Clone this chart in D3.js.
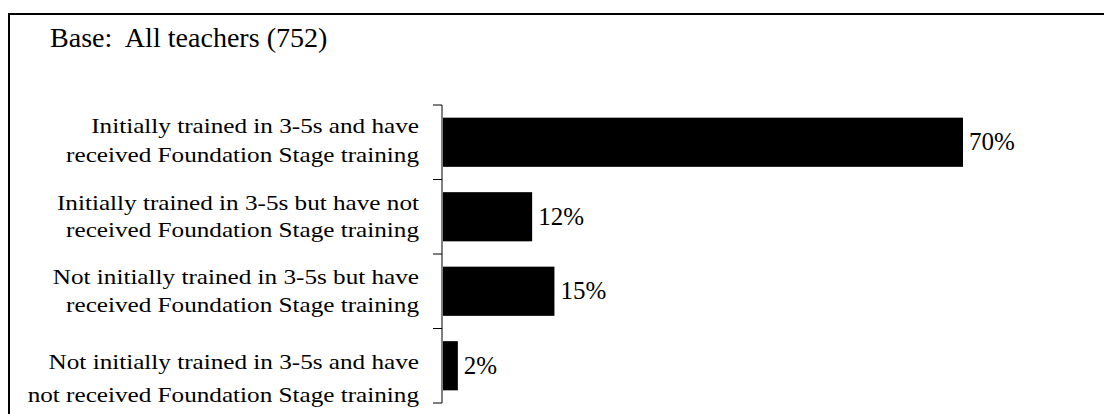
<!DOCTYPE html>
<html>
<head>
<meta charset="utf-8">
<script src="https://cdn.jsdelivr.net/npm/d3@7"></script>
<style>
  body { margin: 0; background: #fff; }
  svg { display: block; }
</style>
</head>
<body>
<div id="container"></div>
<script>
// Données du graphique
const categories = [
  ["Initially trained in 3-5s and have", "received Foundation Stage training"],
  ["Initially trained in 3-5s but have not", "received Foundation Stage training"],
  ["Not initially trained in 3-5s but have", "received Foundation Stage training"],
  ["Not initially trained in 3-5s and have", "not received Foundation Stage training"]
];
const values = [70, 12, 15, 2];
const valueLabels = ["70%", "12%", "15%", "2%"];
const baseText = "Base:  All teachers (752)";

const width = 1104, height = 414;
const fontPolice = "'Liberation Serif', 'Times New Roman', serif";

const svg = d3.select("#container").append("svg")
  .attr("width", width)
  .attr("height", height);

// cadre
svg.append("path")
  .attr("d", "M9,414 L9,14 L1104,14")
  .attr("fill", "none")
  .attr("stroke", "#000")
  .attr("stroke-width", 2);

svg.append("text")
  .attr("transform", "translate(50,47) scale(1.04,1)")
  .style("font-family", fontPolice)
  .style("font-size", "27px")
  .style("white-space", "pre")
  .text(baseText);

const axisX = 442;
const plotTop = 105, plotBottom = 403;

const y = d3.scaleBand()
  .domain(d3.range(categories.length))
  .range([plotTop, plotBottom])
  .paddingInner(0.34)
  .paddingOuter(0.17);

const x = d3.scaleLinear()
  .domain([0, 70])
  .range([axisX + 1, 963]);

// barres
svg.selectAll("rect.bar")
  .data(values)
  .enter().append("rect")
    .attr("class", "bar")
    .attr("x", x(0))
    .attr("y", (d, i) => y(i))
    .attr("width", d => x(d) - x(0))
    .attr("height", y.bandwidth())
    .attr("fill", "#000");

// étiquettes de valeur
svg.selectAll("text.val")
  .data(values)
  .enter().append("text")
    .attr("class", "val")
    .attr("x", d => x(d) + 6)
    .attr("y", (d, i) => y(i) + y.bandwidth() / 2 + 8)
    .style("font-family", fontPolice)
    .style("font-size", "25px")
    .text((d, i) => valueLabels[i]);

// axe vertical avec graduations entre les catégories
const stepH = (plotBottom - plotTop) / categories.length;
const tickPos = d3.range(categories.length + 1).map(i => plotTop + i * stepH);
svg.append("line")
  .attr("x1", axisX).attr("x2", axisX)
  .attr("y1", plotTop).attr("y2", plotBottom)
  .attr("stroke", "#000").attr("stroke-width", 1);
svg.selectAll("line.tick")
  .data(tickPos)
  .enter().append("line")
    .attr("class", "tick")
    .attr("x1", axisX - 9).attr("x2", axisX)
    .attr("y1", d => d).attr("y2", d => d)
    .attr("stroke", "#000").attr("stroke-width", 1);

// libellés des catégories (deux lignes)
const labelOffsets = [[-9, 20], [-7, 20], [-7, 21], [3, 36]];
const labels = svg.selectAll("text.cat")
  .data(categories)
  .enter().append("text")
    .attr("class", "cat")
    .attr("text-anchor", "end")
    .style("font-family", fontPolice)
    .style("font-size", "22px");
labels.each(function(d, i) {
  const cy = (tickPos[i] + tickPos[i + 1]) / 2;
  d3.select(this).selectAll("tspan")
    .data(d)
    .enter().append("tspan")
      .attr("x", 0)
      .attr("y", (t, j) => cy + labelOffsets[i][j])
      .text(t => t);
  d3.select(this).attr("transform", "translate(419,0) scale(1.145,1)");
});
</script>
</body>
</html>
